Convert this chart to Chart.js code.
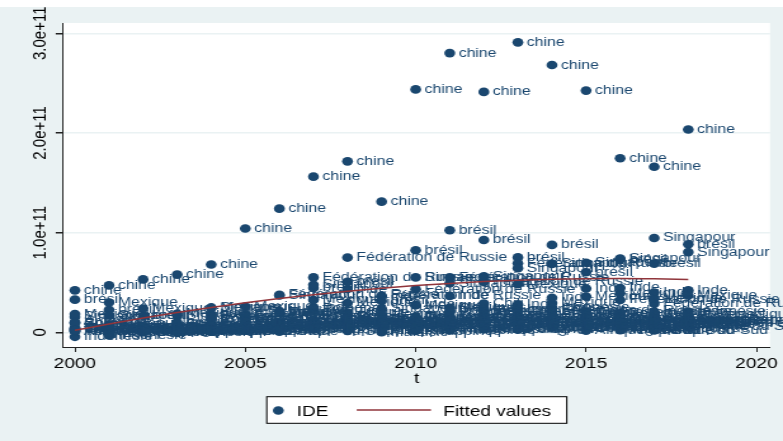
<!DOCTYPE html>
<html>
<head>
<meta charset="utf-8">
<script src="https://cdn.jsdelivr.net/npm/chart.js@4.4.1/dist/chart.umd.min.js"></script>
<style>
html, body { margin: 0; padding: 0; background: #eaf2f3; overflow: hidden; }
#c { display: block; }
</style>
</head>
<body>
<!-- the reference is a stretched Stata graph: draw at 617 wide, show at 783 -->
<canvas id="c" width="617" height="441" style="width:783px;height:441px"></canvas>
<script>
// IDE (FDI inflows), billions of US$, one array per country, years 2000-2018
const years = [2000, 2001, 2002, 2003, 2004, 2005, 2006, 2007, 2008, 2009, 2010, 2011, 2012, 2013, 2014, 2015, 2016, 2017, 2018];

const chine = [42.1, 47.1, 53.1, 57.9, 68.1, 104.1, 124.1, 156.2, 171.5, 131.1, 243.7, 280.1, 241.2, 290.9, 268.1, 242.5, 174.7, 166.1, 203.5];
const bresil = [32.8, 22.5, 16.6, 10.1, 18.1, 15.5, 19.4, 44.6, 50.7, 31.5, 82.4, 102.4, 92.6, 75.2, 87.7, 60.3, 73.4, 68.9, 88.3];
const russie = [2.7, 2.7, 3.5, 8.0, 15.4, 15.5, 37.6, 55.1, 75.0, 36.6, 43.2, 55.1, 50.6, 69.2, 22.0, 6.9, 32.5, 28.6, 8.8];
const singapour = [15.5, 17.0, 6.2, 17.1, 24.4, 18.1, 36.9, 47.7, 12.2, 24.0, 55.1, 49.2, 56.2, 64.4, 68.7, 69.8, 74.0, 94.6, 80.5];
const inde = [3.6, 5.5, 5.6, 4.3, 5.8, 7.3, 20.0, 25.2, 43.4, 35.6, 27.4, 36.5, 24.0, 28.2, 34.6, 44.0, 44.5, 40.0, 42.2];
const mexique = [18.3, 29.9, 23.9, 18.7, 25.0, 26.0, 21.3, 32.4, 29.5, 18.0, 27.3, 24.7, 21.8, 48.4, 29.5, 35.9, 39.3, 34.1, 37.0];
const indonesie = [-4.5, -3.0, 0.1, -0.6, 1.9, 8.3, 4.9, 6.9, 9.3, 4.9, 15.3, 20.6, 21.2, 23.3, 25.1, 19.8, 4.5, 20.6, 20.6];
const malaisie = [3.8, 0.6, 3.2, 2.5, 4.6, 4.0, 7.7, 9.1, 7.6, 0.1, 10.9, 15.1, 8.9, 11.3, 10.6, 10.1, 11.3, 9.4, 8.2];
const coree = [9.3, 4.5, 3.3, 5.1, 13.3, 13.6, 9.0, 8.8, 11.2, 9.0, 9.5, 9.8, 9.5, 12.8, 9.3, 4.1, 12.1, 17.9, 12.2];
const afriqueSud = [0.9, 7.3, 1.6, 0.8, 0.7, 6.5, 0.6, 6.6, 9.9, 7.6, 3.7, 4.1, 4.6, 8.2, 5.8, 1.7, 2.2, 2.0, 5.5];
const turquie = [1.0, 3.4, 1.1, 1.8, 3.0, 10.0, 20.2, 22.0, 19.9, 8.6, 9.1, 16.2, 13.7, 13.3, 13.3, 19.3, 13.8, 11.2, 13.0];
const thailande = [3.4, 5.1, 3.3, 5.2, 5.9, 8.2, 9.5, 11.4, 8.5, 6.4, 14.7, 2.5, 12.9, 15.9, 4.8, 9.0, 3.1, 8.3, 13.2];
const chili = [4.9, 4.2, 2.6, 4.3, 7.2, 7.0, 7.3, 12.5, 16.0, 13.0, 16.0, 24.0, 29.0, 21.0, 24.0, 20.5, 12.4, 6.5, 7.8];
const argentine = [10.4, 2.2, 2.1, 1.7, 4.1, 5.3, 5.5, 6.5, 9.7, 4.0, 11.3, 10.8, 15.3, 9.8, 5.1, 11.8, 3.3, 11.5, 11.9];
const pologne = [9.3, 5.7, 4.1, 4.6, 12.9, 10.3, 19.6, 23.6, 14.8, 12.9, 13.9, 20.6, 6.1, 2.6, 19.2, 15.1, 19.2, 10.5, 17.5];
const colombie = [2.4, 2.5, 2.1, 1.7, 3.1, 10.3, 6.7, 9.0, 10.6, 8.0, 6.4, 14.6, 15.0, 16.2, 16.3, 11.7, 13.8, 13.8, 11.5];
const philippines = [2.2, 0.2, 1.5, 0.5, 0.6, 1.9, 2.9, 2.9, 1.5, 2.1, 1.3, 2.0, 3.2, 3.7, 5.7, 5.6, 8.3, 10.3, 9.9];

const countries = ['chine', 'brésil', 'Fédération de Russie', 'Singapour', 'Inde', 'Mexique', 'Indonésie', 'Malaisie',
    'Corée, République de', 'Afrique du Sud', 'Turquie', 'Thaïlande', 'Chili', 'Argentine', 'Pologne', 'Colombie', 'Philippines'];
const series = [chine, bresil, russie, singapour, inde, mexique, indonesie, malaisie,
    coree, afriqueSud, turquie, thailande, chili, argentine, pologne, colombie, philippines];

// Fitted values (quadratic fit), billions of US$
const fitted = [2.0, 8.4, 14.3, 19.8, 24.9, 29.6, 33.9, 37.8, 41.2, 44.3, 46.9, 49.1, 50.9, 52.3, 53.3, 53.8, 54.0, 53.7, 53.0];

const xTicks = [2000, 2005, 2010, 2015, 2020];
const yTicks = [0, 1e11, 2e11, 3e11];
const yTickLabels = ['0', '1.0e+11', '2.0e+11', '3.0e+11'];

const NAVY = '#1a476f';
const MAROON = '#90353b';
const BG = '#eaf2f3';
const FONT = "'Liberation Sans', Arial, sans-serif";

// build scatter points + their labels
const points = [];
const pointLabels = [];
series.forEach((vals, c) => {
    vals.forEach((v, i) => {
        points.push({ x: years[i], y: v * 1e9 });
        pointLabels.push(countries[c]);
    });
});
const fitPoints = years.map((yr, i) => ({ x: yr, y: fitted[i] * 1e9 }));

// Background: light graph region, white plot region
const backgroundPlugin = {
    id: 'background',
    beforeDraw(chart) {
        const { ctx, chartArea: a } = chart;
        ctx.save();
        ctx.fillStyle = BG;
        ctx.fillRect(0, 0, chart.width, chart.height);
        ctx.fillStyle = '#fff';
        ctx.fillRect(0, 0, chart.width, 7);
        ctx.fillRect(a.left, a.top, a.right - a.left, a.bottom - a.top);
        ctx.restore();
    }
};

// Country name next to each marker
const markerLabels = {
    id: 'markerLabels',
    afterDatasetDraw(chart, args) {
        if (args.index !== 0) return;
        const ctx = chart.ctx;
        ctx.save();
        ctx.fillStyle = NAVY;
        ctx.font = '12.5px ' + FONT;
        ctx.textAlign = 'left';
        ctx.textBaseline = 'middle';
        args.meta.data.forEach((el, i) => {
            ctx.fillText(pointLabels[i], el.x + 7, el.y);
        });
        ctx.restore();
    }
};

// Vertical y tick labels (Stata style)
const yLabels = {
    id: 'yLabels',
    afterDraw(chart) {
        const ctx = chart.ctx;
        const y = chart.scales.y;
        ctx.save();
        ctx.fillStyle = '#000';
        ctx.font = '15px ' + FONT;
        ctx.textAlign = 'center';
        ctx.textBaseline = 'middle';
        yTicks.forEach((v, i) => {
            ctx.save();
            ctx.translate(31.5, y.getPixelForValue(v));
            ctx.rotate(-Math.PI / 2);
            ctx.fillText(yTickLabels[i], 0, 0);
            ctx.restore();
        });
        ctx.restore();
    }
};

// Boxed legend under the axis title
const boxLegend = {
    id: 'boxLegend',
    afterDraw(chart) {
        const ctx = chart.ctx;
        ctx.save();
        ctx.fillStyle = '#fff';
        ctx.fillRect(210.2, 396.7, 236.4, 26.6);
        ctx.strokeStyle = '#000';
        ctx.lineWidth = 1;
        ctx.strokeRect(210.2, 396.7, 236.4, 26.6);

        ctx.fillStyle = NAVY;
        ctx.beginPath();
        ctx.arc(219.3, 410.5, 4.3, 0, Math.PI * 2);
        ctx.fill();

        ctx.strokeStyle = MAROON;
        ctx.lineWidth = 1.5;
        ctx.beginPath();
        ctx.moveTo(281.1, 410);
        ctx.lineTo(339.6, 410);
        ctx.stroke();

        ctx.fillStyle = '#000';
        ctx.font = '15px ' + FONT;
        ctx.textBaseline = 'alphabetic';
        ctx.fillText('IDE', 233.8, 415.5);
        ctx.fillText('Fitted values', 349.3, 415.5);
        ctx.restore();
    }
};

new Chart(document.getElementById('c'), {
    type: 'scatter',
    data: {
        datasets: [{
            label: 'IDE',
            data: points,
            order: 2,
            pointRadius: 4.3,
            pointHoverRadius: 4.3,
            pointBackgroundColor: NAVY,
            pointBorderWidth: 0,
            borderWidth: 0
        }, {
            type: 'line',
            label: 'Fitted values',
            data: fitPoints,
            order: 1,
            borderColor: MAROON,
            borderWidth: 1.5,
            pointRadius: 0,
            fill: false,
            cubicInterpolationMode: 'monotone'
        }]
    },
    options: {
        responsive: false,
        animation: false,
        events: [],
        layout: { padding: { top: 23, right: 10.2, left: 0, bottom: 0 } },
        plugins: {
            legend: { display: false },
            tooltip: { enabled: false }
        },
        scales: {
            x: {
                type: 'linear',
                min: 1999.66,
                max: 2020.40,
                afterBuildTicks: s => { s.ticks = xTicks.map(v => ({ value: v })); },
                afterFit: s => { s.height = 94; },
                ticks: {
                    color: '#000',
                    font: { family: FONT, size: 15 },
                    padding: 3,
                    maxRotation: 0,
                    callback: v => String(v)
                },
                grid: { drawOnChartArea: false, drawTicks: true, tickLength: 5, tickColor: '#222' },
                border: { color: '#222', width: 1 },
                title: {
                    display: true,
                    text: 't',
                    color: '#000',
                    font: { family: FONT, size: 15 },
                    padding: { top: 0, bottom: 53 }
                }
            },
            y: {
                type: 'linear',
                min: -0.147e11,
                max: 3.103e11,
                afterBuildTicks: s => { s.ticks = yTicks.map(v => ({ value: v })); },
                afterFit: s => { s.width = 49.9; },
                ticks: { display: false },
                grid: { color: BG, lineWidth: 1.5, drawTicks: true, tickLength: 6, tickColor: '#222' },
                border: { color: '#222', width: 1 }
            }
        }
    },
    plugins: [backgroundPlugin, markerLabels, yLabels, boxLegend]
});
</script>
</body>
</html>
